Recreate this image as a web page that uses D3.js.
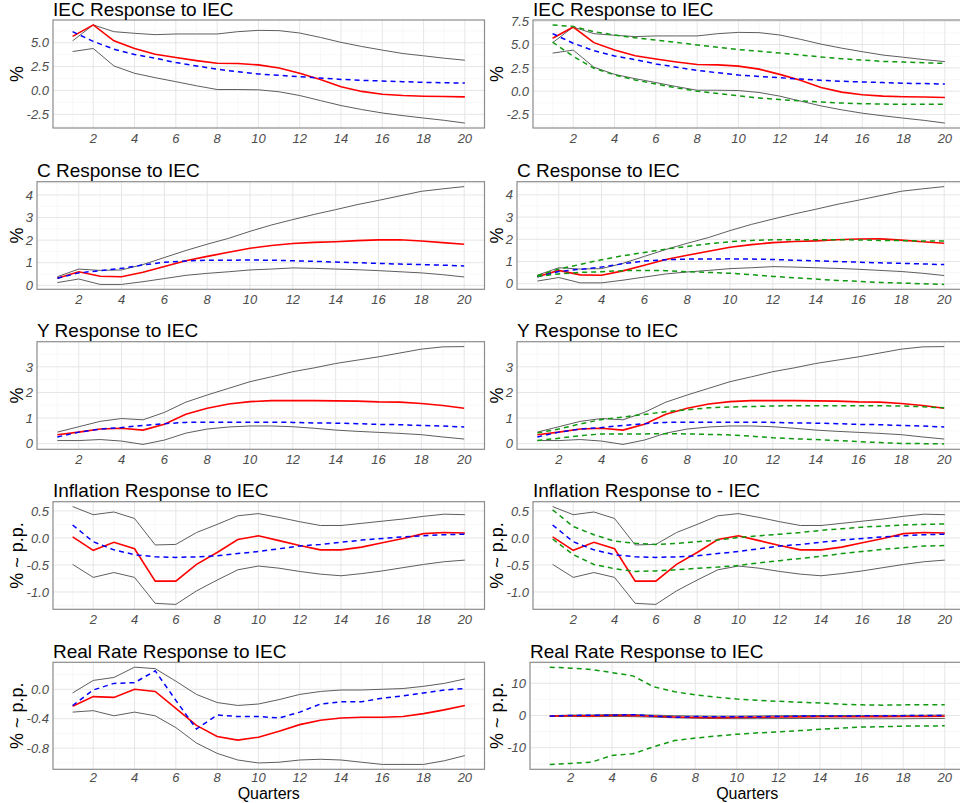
<!DOCTYPE html>
<html>
<head>
<meta charset="utf-8">
<script src="https://cdn.jsdelivr.net/npm/d3@7"></script>
<style>
  html, body { margin: 0; padding: 0; background: #ffffff; overflow: hidden; }
  svg { display: block; font-family: "Liberation Sans", Arial, sans-serif; }
</style>
</head>
<body>
<svg id="chart" width="960" height="803"></svg>
<script>
// ---------------- DATA ----------------
const quarters = [1,2,3,4,5,6,7,8,9,10,11,12,13,14,15,16,17,18,19,20];

// IEC response to IEC
const iecIrf   = [5.67,6.87,5.2,4.4,3.8,3.45,3.13,2.85,2.82,2.68,2.36,1.8,1.16,0.39,-0.1,-0.39,-0.53,-0.6,-0.63,-0.67];
const iecAlt   = [6.16,5.14,4.33,3.77,3.38,2.92,2.57,2.22,1.97,1.73,1.58,1.44,1.3,1.16,1.06,0.99,0.92,0.85,0.81,0.77];
const iecUpper = [5.2,6.87,6.16,5.99,5.85,5.92,5.92,5.92,6.16,6.3,6.27,6.02,5.56,5.04,4.61,4.23,3.87,3.63,3.38,3.17];
const iecLower = [4.08,4.4,2.57,1.8,1.34,0.92,0.49,0.1,0.1,0.07,-0.14,-0.53,-1.06,-1.58,-2.0,-2.36,-2.64,-2.89,-3.13,-3.42];
const iecAltUpper = [7.1,6.92,6.38,6.01,5.72,5.47,5.22,4.96,4.71,4.46,4.28,4.09,3.88,3.66,3.48,3.33,3.19,3.12,3.04,2.97];
const iecAltLower = [5.25,3.73,2.46,1.74,1.2,0.76,0.36,0.0,-0.25,-0.5,-0.72,-0.9,-1.05,-1.16,-1.27,-1.34,-1.38,-1.41,-1.41,-1.41];

// C response to IEC
const cIrf   = [0.31,0.6,0.4,0.38,0.58,0.83,1.09,1.28,1.46,1.64,1.76,1.85,1.9,1.93,1.98,2.01,2.02,1.96,1.89,1.82];
const cAlt   = [0.31,0.55,0.65,0.75,0.9,1.02,1.08,1.11,1.11,1.12,1.11,1.09,1.06,1.03,1.0,0.97,0.94,0.92,0.89,0.86];
const cUpper = [0.38,0.72,0.66,0.68,0.92,1.23,1.54,1.82,2.08,2.39,2.67,2.91,3.14,3.35,3.57,3.76,3.96,4.16,4.27,4.37];
const cLower = [0.12,0.28,0.04,0.04,0.16,0.3,0.44,0.53,0.6,0.68,0.72,0.77,0.75,0.72,0.69,0.65,0.6,0.55,0.47,0.37];
const cAltUpper = [0.36,0.66,0.87,1.08,1.26,1.41,1.56,1.68,1.8,1.89,1.95,1.98,1.98,1.98,1.98,1.97,1.95,1.94,1.92,1.92];
const cAltLower = [0.33,0.44,0.51,0.54,0.59,0.6,0.59,0.54,0.51,0.47,0.41,0.33,0.27,0.21,0.15,0.11,0.06,0.03,0.0,-0.03];

// Y response to IEC
const yIrf   = [0.35,0.45,0.57,0.6,0.53,0.76,1.15,1.38,1.55,1.64,1.68,1.68,1.68,1.67,1.66,1.63,1.62,1.57,1.49,1.38];
const yAlt   = [0.26,0.45,0.57,0.63,0.71,0.78,0.83,0.84,0.84,0.84,0.84,0.83,0.81,0.8,0.78,0.75,0.74,0.71,0.69,0.65];
const yUpper = [0.45,0.66,0.87,0.98,0.93,1.22,1.62,1.9,2.16,2.42,2.61,2.81,2.96,3.13,3.26,3.39,3.54,3.69,3.78,3.79];
const yLower = [0.12,0.12,0.16,0.1,-0.03,0.14,0.41,0.57,0.65,0.69,0.69,0.66,0.6,0.53,0.48,0.44,0.4,0.35,0.26,0.18];
const yAltUpper = [0.42,0.57,0.77,0.94,1.04,1.14,1.25,1.32,1.4,1.43,1.45,1.47,1.48,1.48,1.48,1.48,1.48,1.47,1.44,1.4];
const yAltLower = [0.12,0.21,0.31,0.38,0.38,0.38,0.39,0.38,0.36,0.34,0.29,0.23,0.19,0.16,0.12,0.08,0.04,0.01,0.0,-0.01];

// Inflation response to IEC
const infIrf   = [0.02,-0.23,-0.08,-0.2,-0.8,-0.8,-0.49,-0.27,-0.03,0.04,-0.05,-0.14,-0.22,-0.22,-0.17,-0.09,-0.01,0.08,0.1,0.09];
const infAlt   = [0.24,-0.07,-0.22,-0.31,-0.35,-0.36,-0.35,-0.33,-0.29,-0.25,-0.2,-0.15,-0.12,-0.08,-0.04,-0.01,0.02,0.04,0.06,0.07];
const infUpper = [0.58,0.43,0.48,0.36,-0.13,-0.12,0.1,0.25,0.41,0.45,0.38,0.3,0.23,0.23,0.27,0.31,0.35,0.4,0.44,0.43];
const infLower = [-0.49,-0.73,-0.64,-0.73,-1.21,-1.23,-0.98,-0.78,-0.59,-0.52,-0.56,-0.62,-0.67,-0.7,-0.66,-0.61,-0.55,-0.49,-0.44,-0.41];
const infAltUpper = [0.52,0.21,0.06,-0.06,-0.1,-0.12,-0.1,-0.07,-0.04,0.01,0.04,0.07,0.1,0.14,0.17,0.2,0.22,0.24,0.25,0.26];
const infAltLower = [-0.02,-0.31,-0.49,-0.57,-0.62,-0.61,-0.59,-0.56,-0.54,-0.51,-0.46,-0.42,-0.38,-0.34,-0.29,-0.25,-0.21,-0.18,-0.15,-0.14];

// Real rate response to IEC
const rrIrf   = [-0.23,-0.1,-0.11,0.0,-0.03,-0.26,-0.49,-0.64,-0.69,-0.65,-0.57,-0.48,-0.42,-0.39,-0.38,-0.38,-0.37,-0.33,-0.28,-0.22];
const rrAlt   = [-0.22,-0.01,0.08,0.09,0.25,-0.15,-0.54,-0.35,-0.37,-0.37,-0.39,-0.31,-0.2,-0.17,-0.17,-0.12,-0.09,-0.05,-0.01,0.01];
const rrUpper = [-0.05,0.12,0.16,0.3,0.28,0.11,-0.07,-0.18,-0.22,-0.2,-0.14,-0.07,-0.03,-0.01,-0.01,0.0,0.01,0.04,0.08,0.14];
const rrLower = [-0.31,-0.29,-0.36,-0.31,-0.36,-0.52,-0.73,-0.87,-0.96,-1.0,-0.99,-0.96,-0.95,-0.96,-0.99,-1.02,-1.02,-1.02,-0.97,-0.9];
const rrAltUpper = [15.0,14.7,14.3,13.3,12.3,8.9,7.4,6.4,5.7,5.1,4.7,4.4,4.1,3.9,3.5,3.3,3.2,3.3,3.3,3.3];
const rrAltLower = [-15.2,-14.9,-14.5,-12.4,-11.9,-9.7,-7.8,-7.0,-6.4,-5.8,-5.4,-5.1,-4.7,-4.3,-3.9,-3.6,-3.5,-3.3,-3.3,-3.2];

// Tick labels
const xTicks = [2,4,6,8,10,12,14,16,18,20];
const ticksIEC  = [-2.5,0,2.5,5];
const ticksIECr = [-2.5,0,2.5,5,7.5];
const ticksC    = [0,1,2,3,4];
const ticksY    = [0,1,2,3];
const ticksInf  = [-1,-0.5,0,0.5];
const ticksRR   = [-0.8,-0.4,0];
const ticksRRr  = [-10,0,10];

// Titles
const titlesLeft  = ["IEC Response to IEC","C Response to IEC","Y Response to IEC","Inflation Response to IEC","Real Rate Response to IEC"];
const titlesRight = ["IEC Response to IEC","C Response to IEC","Y Response to IEC","Inflation Response to - IEC","Real Rate Response to IEC"];
const yLabels = ["%","%","%","% ~ p.p.","% ~ p.p."];
const xTitle = "Quarters";

// ---------------- LAYOUT ----------------
const rowTop    = [20, 181.7, 341.7, 501.7, 662.3];
const rowBottom = [128, 289.3, 449.3, 609.3, 769.3];
const leftPad   = [[53,533],[37,517],[37,517],[53,533],[53,530]];
const colX = [0, 480];
const plotRightOff = 484.5;

const COLORS = { irf: "#ff0000", alt: "#0000ff", band: "#5e5e5e", altBand: "#0f990f",
                 border: "#8c8c8c", major: "#e6e6e6", minor: "#f3f3f3",
                 tick: "#4d4d4d", text: "#000000" };

const rowsData = [
  { irf: iecIrf, alt: iecAlt, up: iecUpper, lo: iecLower, gUp: iecAltUpper, gLo: iecAltLower, ticks: [ticksIEC, ticksIECr], dec: [1,1] },
  { irf: cIrf, alt: cAlt, up: cUpper, lo: cLower, gUp: cAltUpper, gLo: cAltLower, ticks: [ticksC, ticksC], dec: [0,0] },
  { irf: yIrf, alt: yAlt, up: yUpper, lo: yLower, gUp: yAltUpper, gLo: yAltLower, ticks: [ticksY, ticksY], dec: [0,0] },
  { irf: infIrf, alt: infAlt, up: infUpper, lo: infLower, gUp: infAltUpper, gLo: infAltLower, ticks: [ticksInf, ticksInf], dec: [1,1] },
  { irf: rrIrf, alt: rrAlt, up: rrUpper, lo: rrLower, gUp: rrAltUpper, gLo: rrAltLower, ticks: [ticksRR, ticksRRr], dec: [1,0] }
];

const svg = d3.select("#chart");
const fmt = (v, d) => v.toFixed(d);

function minorBreaks(major, domain) {
  const step = major[1] - major[0];
  const ext = [major[0] - step].concat(major, [major[major.length-1] + step]);
  const out = [];
  for (let i = 0; i < ext.length - 1; i++) out.push((ext[i] + ext[i+1]) / 2);
  return out.filter(v => v >= domain[0] && v <= domain[1]);
}

rowsData.forEach((row, r) => {
  [0, 1].forEach(c => {
    const withAlt = c === 1;
    const x0 = leftPad[r][c];
    const x1 = colX[c] + plotRightOff;
    const y0 = rowTop[r], y1 = rowBottom[r];

    const series = [row.irf, row.alt, row.up, row.lo].concat(withAlt ? [row.gUp, row.gLo] : []);
    const all = series.flat();
    let lo = d3.min(all), hi = d3.max(all);
    const pad = (hi - lo) * 0.05;
    const yDom = [lo - pad, hi + pad];
    const xDom = [1 - 19 * 0.05, 20 + 19 * 0.05];

    const x = d3.scaleLinear().domain(xDom).range([x0, x1]);
    const y = d3.scaleLinear().domain(yDom).range([y1, y0]);

    const g = svg.append("g");
    const clipId = `clip-${r}-${c}`;
    g.append("clipPath").attr("id", clipId).append("rect")
      .attr("x", x0).attr("y", y0).attr("width", x1 - x0).attr("height", y1 - y0);

    // grid
    const grid = g.append("g");
    const yMaj = row.ticks[c];
    const yMin = minorBreaks(yMaj, yDom);
    const xMin = minorBreaks(xTicks, xDom);
    grid.selectAll("line.ymin").data(yMin).join("line")
      .attr("x1", x0).attr("x2", x1).attr("y1", d => y(d)).attr("y2", d => y(d))
      .attr("stroke", COLORS.minor).attr("stroke-width", 0.6);
    grid.selectAll("line.xmin").data(xMin).join("line")
      .attr("y1", y0).attr("y2", y1).attr("x1", d => x(d)).attr("x2", d => x(d))
      .attr("stroke", COLORS.minor).attr("stroke-width", 0.6);
    grid.selectAll("line.ymaj").data(yMaj).join("line")
      .attr("x1", x0).attr("x2", x1).attr("y1", d => y(d)).attr("y2", d => y(d))
      .attr("stroke", COLORS.major).attr("stroke-width", 1);
    grid.selectAll("line.xmaj").data(xTicks).join("line")
      .attr("y1", y0).attr("y2", y1).attr("x1", d => x(d)).attr("x2", d => x(d))
      .attr("stroke", COLORS.major).attr("stroke-width", 1);

    // lines
    const line = d3.line().x((d, i) => x(quarters[i])).y(d => y(d));
    const lines = g.append("g").attr("clip-path", `url(#${clipId})`).attr("fill", "none");
    [row.up, row.lo].forEach(s => lines.append("path").attr("d", line(s))
      .attr("stroke", COLORS.band).attr("stroke-width", 1));
    lines.append("path").attr("d", line(row.irf)).attr("stroke", COLORS.irf).attr("stroke-width", 1.6);
    lines.append("path").attr("d", line(row.alt)).attr("stroke", COLORS.alt).attr("stroke-width", 1.5)
      .attr("stroke-dasharray", "5,4");
    if (withAlt) {
      [row.gUp, row.gLo].forEach(s => lines.append("path").attr("d", line(s))
        .attr("stroke", COLORS.altBand).attr("stroke-width", 1.5).attr("stroke-dasharray", "5,4"));
    }

    // border
    g.append("rect").attr("x", x0).attr("y", y0).attr("width", x1 - x0).attr("height", y1 - y0)
      .attr("fill", "none").attr("stroke", COLORS.border).attr("stroke-width", 1.2);

    // y tick labels
    g.selectAll("text.yt").data(yMaj).join("text")
      .attr("x", x0 - 4).attr("y", d => y(d)).attr("dy", "0.36em")
      .attr("text-anchor", "end").attr("font-size", 13).attr("font-style", "italic")
      .attr("fill", COLORS.tick).text(d => fmt(d, row.dec[c]));
    // x tick labels
    g.selectAll("text.xt").data(xTicks).join("text")
      .attr("x", d => x(d)).attr("y", y1 + (r === 4 ? 13 : 14.5))
      .attr("text-anchor", "middle").attr("font-size", 13).attr("font-style", "italic")
      .attr("fill", COLORS.tick).text(d => d);

    // title
    g.append("text").attr("x", x0).attr("y", y0 - 4.5).attr("font-size", 19)
      .attr("fill", COLORS.text).text(c === 0 ? titlesLeft[r] : titlesRight[r]);

    // y axis title
    const yc = (y0 + y1) / 2;
    g.append("text").attr("transform", `translate(${colX[c] + 23},${yc}) rotate(-90)`)
      .attr("text-anchor", "middle").attr("font-size", 18).attr("fill", COLORS.text)
      .text(yLabels[r]);

    if (r === 4) {
      g.append("text").attr("x", (x0 + x1) / 2).attr("y", 799)
        .attr("text-anchor", "middle").attr("font-size", 16).attr("fill", COLORS.text).text(xTitle);
    }
  });
});
</script>
</body>
</html>
